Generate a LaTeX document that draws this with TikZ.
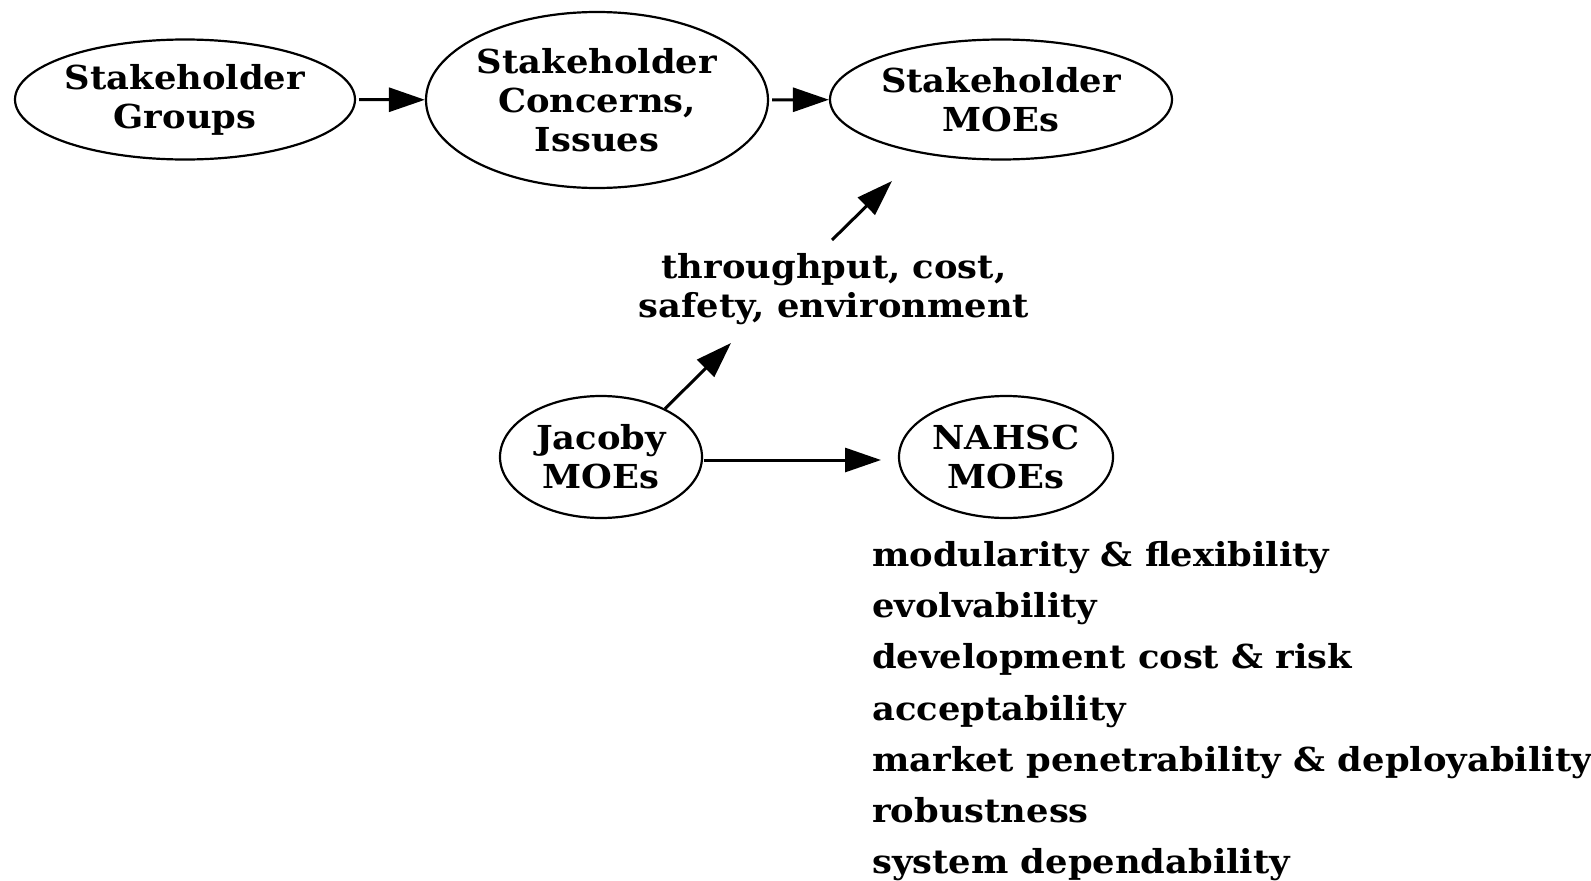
\documentclass[tikz,border=0pt]{standalone}
\usepackage{fontspec}
\setmainfont{DejaVu Serif}[FakeStretch=1.07]
\usetikzlibrary{shapes.geometric,arrows.meta}
\begin{document}
\begin{tikzpicture}[x=1pt,y=-1pt,
  every node/.style={font=\fontsize{33}{39}\selectfont\bfseries},
  oval/.style={ellipse,draw,line width=2.2pt,inner sep=0pt,align=center},
  link/.style={line width=3pt,-{Triangle[length=36pt,width=24pt]}},
  listitem/.style={anchor=base west,inner sep=0pt}]
\useasboundingbox (0,0) rectangle (1591,881);
% top row
\node[oval,minimum width=340,minimum height=120] (grp) at (185,99.5) {Stakeholder\\Groups};
\node[oval,minimum width=342,minimum height=176] (con) at (597,100) {Stakeholder\\Concerns,\\Issues};
\node[oval,minimum width=342,minimum height=120] (moe) at (1001,99.5) {Stakeholder\\MOEs};
% middle label
\node[align=center,inner sep=0pt] (crit) at (834,289) {throughput, cost,\\safety, environment};
\coordinate (critTop) at (832,240);
\coordinate (critBot) at (731,343);
\coordinate (moeBot) at (892,181);
% lower row
\node[oval,minimum width=202,minimum height=122] (jac) at (601,457) {Jacoby\\MOEs};
\node[oval,minimum width=214,minimum height=122] (nah) at (1006,457) {NAHSC\\MOEs};
\coordinate (jacR) at (704,460);
\coordinate (nahL) at (881,460);
% list of NAHSC measures
\node[listitem] (l1) at (872,566) {modularity \& flexibility};
\node[listitem] (l2) at (872,617) {evolvability};
\node[listitem] (l3) at (872,668) {development cost \& risk};
\node[listitem] (l4) at (872,720) {acceptability};
\node[listitem] (l5) at (872,771) {market penetrability \& deployability};
\node[listitem] (l6) at (872,822) {robustness};
\node[listitem] (l7) at (872,873) {system dependability};
% connectors
\draw[link,shorten <=3pt] (grp) -- (con);
\draw[link,shorten <=3pt] (con) -- (moe);
\draw[link] (critTop) -- (moeBot);
\draw[link] (jac.37) -- (critBot);
\draw[link] (jacR) -- (nahL);
\end{tikzpicture}
\end{document}
